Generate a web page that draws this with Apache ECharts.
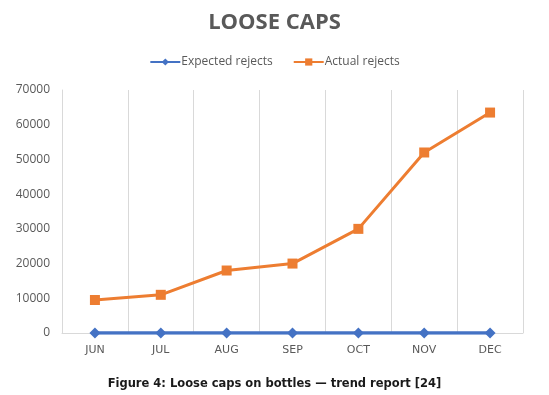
<!DOCTYPE html>
<html><head><meta charset="utf-8">
<script src="https://cdn.jsdelivr.net/npm/echarts@6/dist/echarts.min.js"></script>
<style>html,body{margin:0;padding:0;background:#fff}#c{width:549px;height:395px}</style>
</head><body><div id="c"></div>
<script>
const categories = ['JUN','JUL','AUG','SEP','OCT','NOV','DEC'];
const expectedRejects = [0,0,0,0,0,0,0];
const actualRejects = [9500,11000,18000,20000,30000,52000,63500];
const yTicks = [0,10000,20000,30000,40000,50000,60000,70000];

const chart = echarts.init(document.getElementById('c'), null, {renderer:'canvas'});
chart.setOption({
  animation:false,
  title:[{
    text:'LOOSE CAPS', left:'center', top:7,
    textStyle:{fontFamily:'Open Sans', fontWeight:'bold', fontSize:22, color:'#595959'}
  },{
    text:'Figure 4: Loose caps on bottles — trend report [24]', left:'center', top:373,
    textStyle:{fontFamily:'DejaVu Sans', fontWeight:'bold', fontSize:11.5, color:'#1a1a1a'}
  }],
  legend:{
    top:51, left:'center', itemGap:20, itemWidth:30, itemHeight:9,
    textStyle:{fontFamily:'Open Sans', fontSize:12, color:'#595959', padding:[0,0,0,-4]},
    data:['Expected rejects','Actual rejects']
  },
  grid:{left:62, right:26, top:90, bottom:62},
  xAxis:{
    type:'category', data:categories, boundaryGap:true,
    axisLine:{lineStyle:{color:'#d9d9d9', width:1}},
    axisTick:{show:false},
    axisLabel:{fontFamily:'DejaVu Sans', fontSize:11, color:'#595959', margin:12},
    splitLine:{show:true, lineStyle:{color:'#d9d9d9', width:1}}
  },
  yAxis:{
    type:'value', min:yTicks[0], max:yTicks[yTicks.length-1], interval:10000,
    axisLine:{show:true, lineStyle:{color:'#d9d9d9'}},
    axisTick:{show:false},
    splitLine:{show:false},
    axisLabel:{fontFamily:'Open Sans', fontSize:12, color:'#595959', margin:12,
      formatter:function(v){return String(v);}}
  },
  series:[{
    name:'Expected rejects', type:'line', data:expectedRejects,
    symbol:'diamond', symbolSize:11, z:3,
    itemStyle:{color:'#4472C4'}, lineStyle:{color:'#4472C4', width:3.5}
  },{
    name:'Actual rejects', type:'line', data:actualRejects,
    symbol:'rect', symbolSize:10,
    itemStyle:{color:'#ED7D31'}, lineStyle:{color:'#ED7D31', width:3}
  }]
});
</script></body></html>
